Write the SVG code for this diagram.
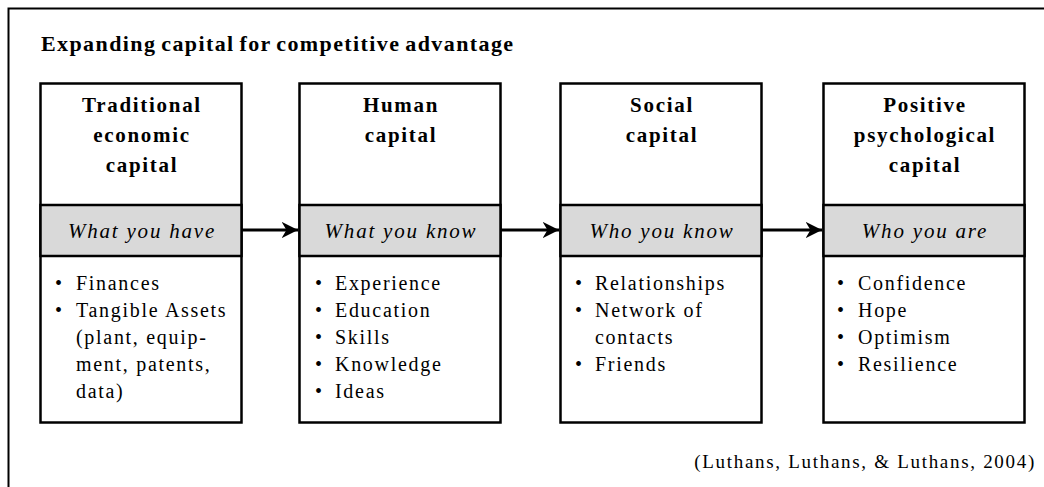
<svg xmlns="http://www.w3.org/2000/svg" width="1044" height="487" viewBox="0 0 1044 487">
<defs>
<style>
.frame{fill:#fff;stroke:#000;stroke-width:2}
.box{fill:#fff;stroke:#000;stroke-width:2.5}
.band{fill:#d9d9d9;stroke:#000;stroke-width:2.5}
.title{font-family:"Liberation Serif",serif;font-weight:bold;font-size:22px;letter-spacing:1.4px;word-spacing:-2px;fill:#000}
.head{font-family:"Liberation Serif",serif;font-weight:bold;font-size:21px;letter-spacing:1.7px;fill:#000;text-anchor:middle}
.band-t{font-family:"Liberation Serif",serif;font-style:italic;font-size:21px;letter-spacing:1.8px;fill:#000;text-anchor:middle}
.item{font-family:"Liberation Serif",serif;font-size:20px;letter-spacing:1.7px;fill:#000}
.cite{font-family:"Liberation Serif",serif;font-size:19px;letter-spacing:1.7px;fill:#000;text-anchor:end}
.conn{stroke:#000;stroke-width:3;fill:none}
</style>
<marker id="arr" viewBox="0 0 10 10" refX="10" refY="5" markerWidth="5.5" markerHeight="5.5" markerUnits="strokeWidth" orient="auto">
<path d="M0,0 L10,5 L0,10 L3,5 Z" fill="#000"/>
</marker>
</defs>
<rect x="0" y="0" width="1044" height="487" fill="#fff"/>
<rect class="frame" x="8.5" y="8.5" width="1100" height="600"/>
<text class="title" x="41" y="51">Expanding capital for competitive advantage</text>

<g id="node-traditional">
<rect class="box" x="40.5" y="83.5" width="201" height="339"/>
<rect class="band" x="40.5" y="205" width="201" height="51"/>
<text class="head" x="142" y="112">Traditional</text>
<text class="head" x="142" y="142">economic</text>
<text class="head" x="142" y="172">capital</text>
<text class="band-t" x="142" y="238">What you have</text>
<text class="item" x="55" y="290">•</text><text class="item" x="76" y="290">Finances</text>
<text class="item" x="55" y="317">•</text><text class="item" x="76" y="317">Tangible Assets</text>
<text class="item" x="76" y="344">(plant, equip-</text>
<text class="item" x="76" y="371">ment, patents,</text>
<text class="item" x="76" y="398">data)</text>
</g>

<g id="node-human">
<rect class="box" x="299.5" y="83.5" width="201" height="339"/>
<rect class="band" x="299.5" y="205" width="201" height="51"/>
<text class="head" x="401" y="112">Human</text>
<text class="head" x="401" y="142">capital</text>
<text class="band-t" x="401" y="238">What you know</text>
<text class="item" x="315" y="290">•</text><text class="item" x="335" y="290">Experience</text>
<text class="item" x="315" y="317">•</text><text class="item" x="335" y="317">Education</text>
<text class="item" x="315" y="344">•</text><text class="item" x="335" y="344">Skills</text>
<text class="item" x="315" y="371">•</text><text class="item" x="335" y="371">Knowledge</text>
<text class="item" x="315" y="398">•</text><text class="item" x="335" y="398">Ideas</text>
</g>

<g id="node-social">
<rect class="box" x="560.5" y="83.5" width="201" height="339"/>
<rect class="band" x="560.5" y="205" width="201" height="51"/>
<text class="head" x="662" y="112">Social</text>
<text class="head" x="662" y="142">capital</text>
<text class="band-t" x="662" y="238">Who you know</text>
<text class="item" x="575" y="290">•</text><text class="item" x="595" y="290">Relationships</text>
<text class="item" x="575" y="317">•</text><text class="item" x="595" y="317">Network of</text>
<text class="item" x="595" y="344">contacts</text>
<text class="item" x="575" y="371">•</text><text class="item" x="595" y="371">Friends</text>
</g>

<g id="node-psycap">
<rect class="box" x="823.5" y="83.5" width="201" height="339"/>
<rect class="band" x="823.5" y="205" width="201" height="51"/>
<text class="head" x="925" y="112">Positive</text>
<text class="head" x="925" y="142">psychological</text>
<text class="head" x="925" y="172">capital</text>
<text class="band-t" x="925" y="238">Who you are</text>
<text class="item" x="837" y="290">•</text><text class="item" x="858" y="290">Confidence</text>
<text class="item" x="837" y="317">•</text><text class="item" x="858" y="317">Hope</text>
<text class="item" x="837" y="344">•</text><text class="item" x="858" y="344">Optimism</text>
<text class="item" x="837" y="371">•</text><text class="item" x="858" y="371">Resilience</text>
</g>

<g id="connectors">
<line class="conn" x1="242" y1="230" x2="298" y2="230" marker-end="url(#arr)"/>
<line class="conn" x1="501" y1="230" x2="559" y2="230" marker-end="url(#arr)"/>
<line class="conn" x1="762" y1="230" x2="822" y2="230" marker-end="url(#arr)"/>
</g>

<text class="cite" x="1036" y="468">(Luthans, Luthans, &amp; Luthans, 2004)</text>
</svg>
